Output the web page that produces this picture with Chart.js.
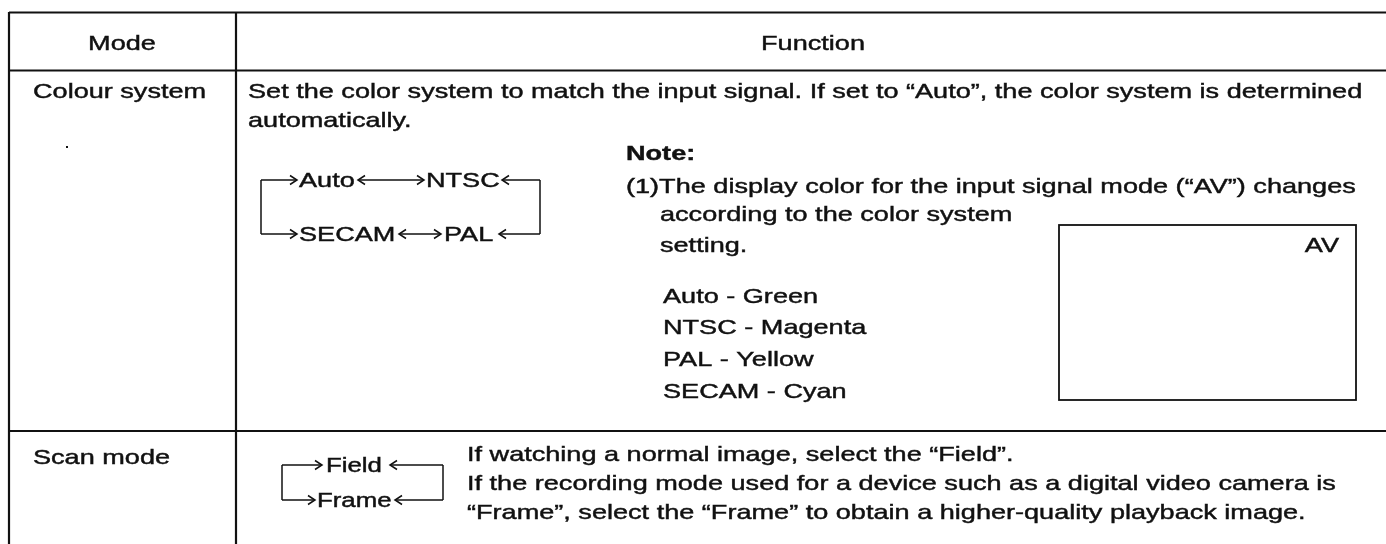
<!DOCTYPE html>
<html>
<head>
<meta charset="utf-8">
<script src="https://cdn.jsdelivr.net/npm/chart.js@4.4.1/dist/chart.umd.min.js"></script>
<style>
  html, body { margin: 0; padding: 0; background: #fff; }
  canvas { display: block; }
</style>
</head>
<body>
<canvas id="tabla" width="1386" height="544"></canvas>
<script>
// contenido de la tabla
const headers = ['Mode', 'Function'];
const modes = ['Colour system', 'Scan mode'];
const colourIntro = [
  'Set the color system to match the input signal. If set to \u201cAuto\u201d, the color system is determined',
  'automatically.'
];
const noteTitle = 'Note:';
const noteLines = [
  '(1)The display color for the input signal mode (\u201cAV\u201d) changes',
  'according to the color system',
  'setting.'
];
const colourSystems = ['Auto', 'NTSC', 'PAL', 'SECAM'];
const displayColours = ['Green', 'Magenta', 'Yellow', 'Cyan'];
const screenLabel = 'AV';
const scanModes = ['Field', 'Frame'];
const scanLines = [
  'If watching a normal image, select the \u201cField\u201d.',
  'If the recording mode used for a device such as a digital video camera is',
  '\u201cFrame\u201d, select the \u201cFrame\u201d to obtain a higher-quality playback image.'
];

const FONT = '"Liberation Sans", Arial, Helvetica, sans-serif';
const SIZE = 21;
const SX = 1.29;   // el escaneo esta estirado a lo ancho
const INK = '#111';

const tablePlugin = {
  id: 'tabla',
  afterDraw(chart) {
    const c = chart.ctx;
    const X = v => chart.scales.x.getPixelForValue(v);
    const Y = v => chart.scales.y.getPixelForValue(v);

    function text(str, x, y, opts) {
      opts = opts || {};
      c.save();
      c.font = (opts.bold ? 'bold ' : '') + (opts.size || SIZE) + 'px ' + FONT;
      c.fillStyle = INK;
      c.strokeStyle = INK;
      c.lineWidth = 0.45;
      c.textBaseline = 'alphabetic';
      let w = c.measureText(str).width * SX;
      let px = X(x);
      if (opts.align === 'center') px -= w / 2;
      if (opts.align === 'right') px -= w;
      c.translate(px, Y(y));
      c.scale(SX, 1);
      c.fillText(str, 0, 0);
      c.strokeText(str, 0, 0);
      c.restore();
      return w;
    }
    function line(x1, y1, x2, y2, lw) {
      c.save();
      c.strokeStyle = INK;
      c.lineWidth = lw || 2;
      c.beginPath();
      c.moveTo(X(x1), Y(y1));
      c.lineTo(X(x2), Y(y2));
      c.stroke();
      c.restore();
    }
    function head(x, y, dir) {
      c.save();
      c.strokeStyle = INK;
      c.lineWidth = 1.5;
      c.beginPath();
      c.moveTo(X(x - dir * 7), Y(y - 4.5));
      c.lineTo(X(x), Y(y));
      c.lineTo(X(x - dir * 7), Y(y + 4.5));
      c.stroke();
      c.restore();
    }
    function arrow(x1, x2, y, startHead, endHead) {
      line(x1, y, x2, y, 1.5);
      if (endHead) head(x2, y, 1);
      if (startHead) head(x1, y, -1);
    }

    // reglas de la tabla
    line(9, 12.5, 1386, 12.5, 2.2);
    line(9, 70.5, 1386, 70.5, 2.2);
    line(9, 431, 1386, 431, 2.2);
    line(9, 12, 9, 544, 2.2);
    line(236, 12, 236, 544, 2.2);

    // cabecera
    text(headers[0], 122, 50, { align: 'center' });
    text(headers[1], 813, 50, { align: 'center' });

    // fila 1: sistema de color
    text(modes[0], 33, 98);
    text(colourIntro[0], 248, 98);
    text(colourIntro[1], 248, 127);
    c.save();
    c.fillStyle = INK;
    c.fillRect(X(66), Y(146), 2, 2);
    c.restore();

    // diagrama Auto / NTSC / SECAM / PAL
    const yA = 180, yB = 234;
    line(261, yA, 261, yB, 1.5);
    line(540, yA, 540, yB, 1.5);
    arrow(261, 297, yA, false, true);
    text(colourSystems[0], 299, yA + 7);
    arrow(358, 424, yA, true, true);
    text(colourSystems[1], 426, yA + 7);
    arrow(502, 540, yA, true, false);
    arrow(261, 297, yB, false, true);
    text(colourSystems[3], 299, yB + 7);
    arrow(399, 441, yB, true, true);
    text(colourSystems[2], 444, yB + 7);
    arrow(499, 540, yB, true, false);

    // nota
    text(noteTitle, 626, 160, { bold: true });
    text(noteLines[0], 626, 193);
    text(noteLines[1], 660, 221);
    text(noteLines[2], 660, 252);
    const listY = [303, 334, 366, 398];
    colourSystems.forEach((s, i) => text(s + ' - ' + displayColours[i], 663, listY[i]));

    // pantalla con la etiqueta AV
    c.save();
    c.strokeStyle = INK;
    c.lineWidth = 1.8;
    c.strokeRect(X(1059), Y(225), X(1356) - X(1059), Y(400) - Y(225));
    c.restore();
    text(screenLabel, 1339, 252, { align: 'right' });

    // fila 2: modo de escaneo
    text(modes[1], 33, 464);
    const yF = 465, yR = 500;
    line(282, yF, 282, yR, 1.5);
    line(443, yF, 443, yR, 1.5);
    arrow(282, 322, yF, false, true);
    text(scanModes[0], 326, yF + 7, { size: 20 });
    arrow(390, 443, yF, true, false);
    arrow(282, 315, yR, false, true);
    text(scanModes[1], 317, yR + 7, { size: 20 });
    arrow(395, 443, yR, true, false);
    scanLines.forEach((s, i) => text(s, 467, 461 + i * 29));
  }
};

const ctx = document.getElementById('tabla');
let tabla = new Chart(ctx, {
  type: 'scatter',
  data: { datasets: [] },
  options: {
    responsive: false,
    animation: false,
    layout: { padding: 0 },
    plugins: {
      legend: { display: false },
      tooltip: { enabled: false }
    },
    scales: {
      x: { type: 'linear', min: 0, max: 1386, display: false },
      y: { type: 'linear', min: 0, max: 544, reverse: true, display: false }
    }
  },
  plugins: [tablePlugin]
});
</script>
</body>
</html>
